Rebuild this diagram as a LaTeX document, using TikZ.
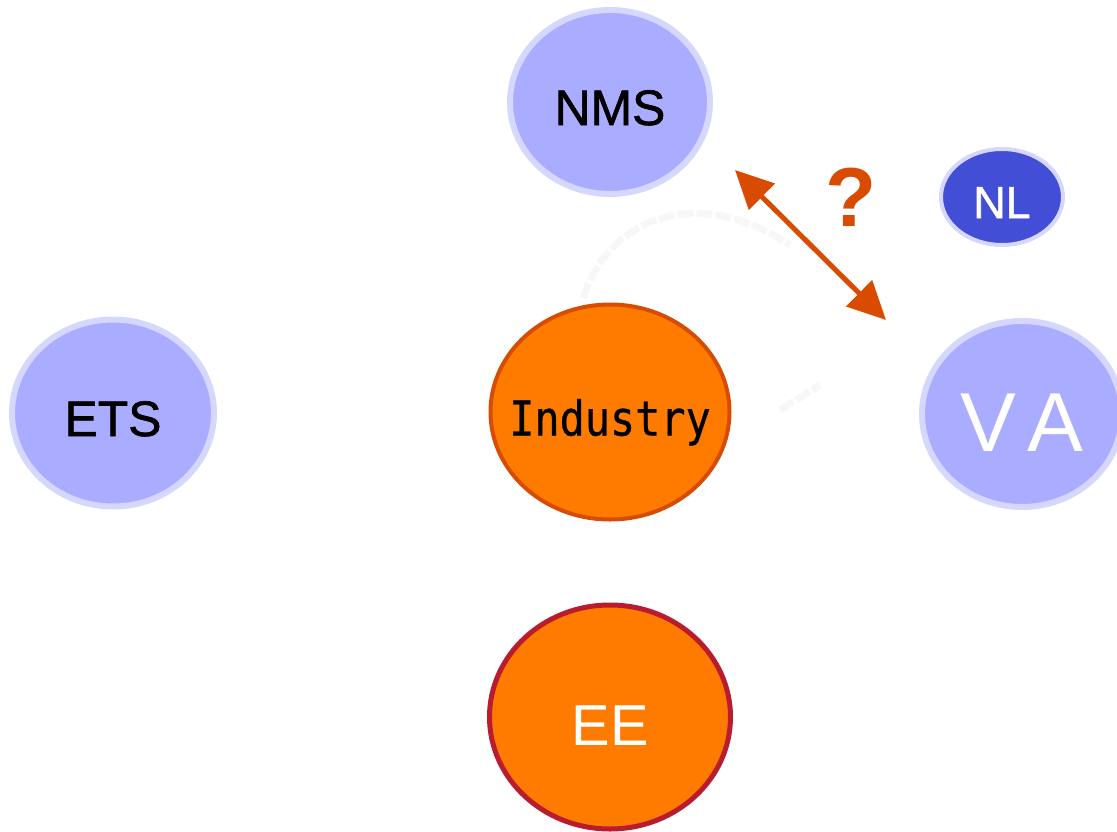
\documentclass[tikz,border=0pt]{standalone}
\usepackage{fontspec}
\setmainfont{Liberation Sans}
\newfontfamily\medfont[FakeBold=1.3]{Liberation Sans}
\newfontfamily\industryfont[FakeBold=0.6]{DejaVu Sans Mono}
\usetikzlibrary{arrows.meta}
\usetikzlibrary{shapes.geometric}
\definecolor{lilac}{RGB}{170,172,255}
\definecolor{lilacrim}{RGB}{214,215,255}
\definecolor{navyblob}{RGB}{67,78,214}
\definecolor{amber}{RGB}{255,123,0}
\definecolor{rust}{RGB}{214,76,0}
\definecolor{crimson}{RGB}{185,28,46}
\definecolor{query}{RGB}{217,75,0}
\newcommand{\fsz}[1]{\fontsize{#1}{#1}\selectfont}
\tikzset{
actor/.style={
  ellipse,
  inner sep=0pt,
  text depth=0pt,
  fill=lilac,
  draw=lilacrim,
  line width=6bp
  }
}
\tikzset{
sector/.style={
  ellipse,
  inner sep=0pt,
  text depth=0pt,
  fill=amber,
  line width=4bp
  }
}
\tikzstyle{link} = [draw,line width=5bp,color=query,{Triangle[width=36bp,length=38bp]}-{Triangle[width=36bp,length=38bp]}]
\tikzstyle{ghost} = [draw,line width=7bp,color=black!3,dash pattern=on 16bp off 3bp]
\tikzset{%
    boundingBox/.style={use as bounding box},
    }

\begin{document}
\begin{tikzpicture}[x=1bp, y=-1bp]
        \path[boundingBox] (0,0) rectangle (1117,832);
		%vertices
		\node (nms) at (610, 102) [actor, minimum width=200bp, minimum height=184bp, text height=46bp, font=\medfont\fsz{50}] {NMS};
		\node (nl) at (1002, 197) [actor, fill=navyblob, line width=4bp, minimum width=122bp, minimum height=96bp, text height=42bp, text=white, font=\medfont\fsz{45}] {NL};
		\node (va) at (1022, 414) [actor, minimum width=200bp, minimum height=186bp, text height=74bp, text=white, font=\fsz{84}] {V\hspace{12bp}A};
		\node (ets) at (113, 413) [actor, minimum width=202bp, minimum height=187bp, text height=46bp, font=\medfont\fsz{50}] {ETS};

		\node (ind) at (610, 412) [sector, draw=rust, minimum width=239bp, minimum height=215bp, text height=47bp, font=\industryfont\fsz{42}] {\makebox[0pt]{\scalebox{1}[1.15]{Industry}}};
		\node (ee) at (610, 717) [sector, draw=crimson, line width=5bp, minimum width=241bp, minimum height=224bp, text height=57bp, text=white, font=\fsz{58}] {EE};

		\coordinate (g0) at (583, 298);
		\coordinate (g1) at (790, 245);
		\coordinate (g2) at (780, 410);
		\coordinate (g3) at (820, 385);
		%edges
		\draw[ghost] (g0) .. controls (610, 215) and (700, 185) .. (g1);
		\draw[ghost] (g2) -- (g3);

		\coordinate (p0) at (735, 170);
		\coordinate (p1) at (886, 320);
		\draw[link] (p0) -- (p1);
		\node (q) at (851, 197) [text=query, font=\bfseries\fsz{84}] {?};
\end{tikzpicture}
\end{document}
